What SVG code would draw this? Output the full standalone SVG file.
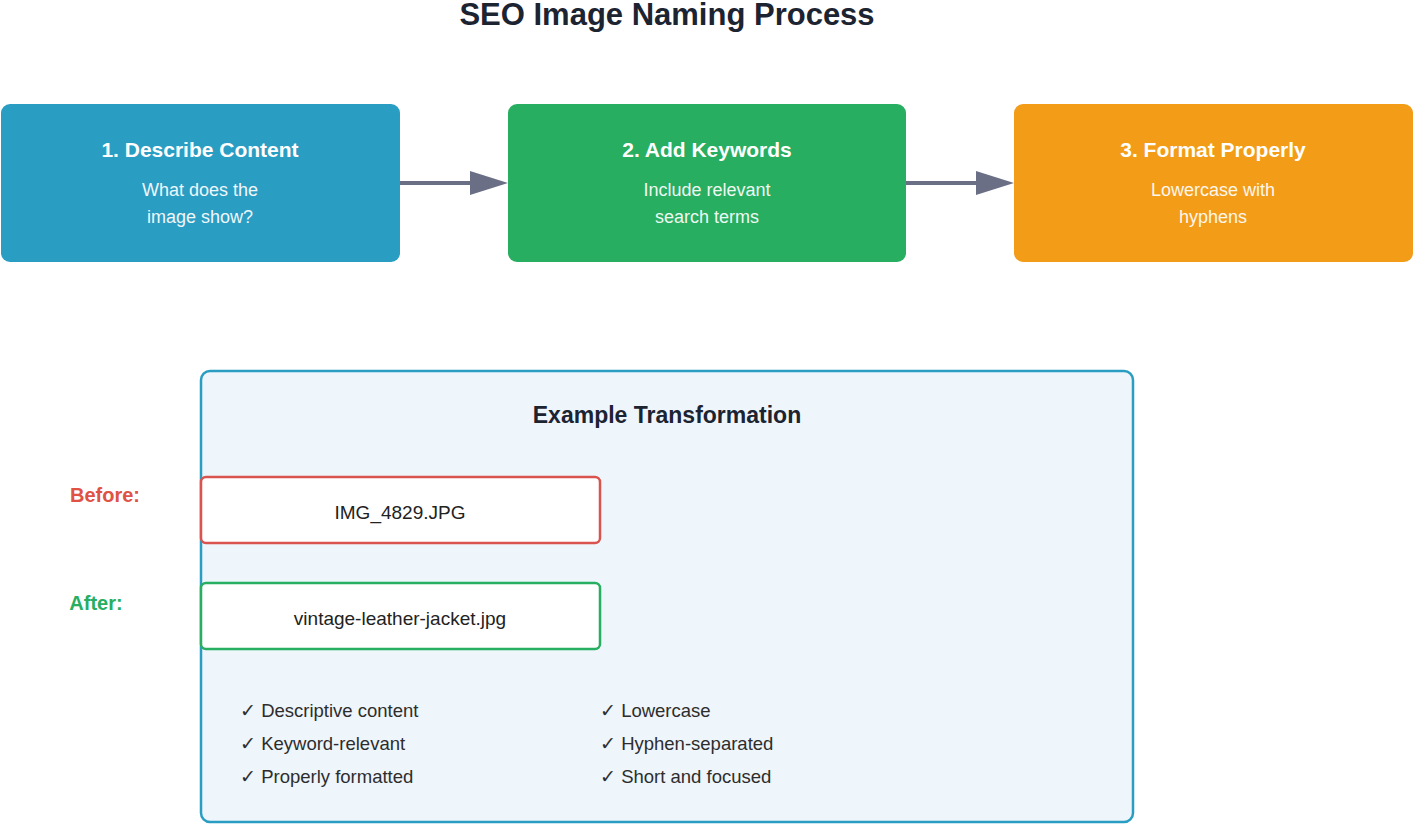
<svg xmlns="http://www.w3.org/2000/svg" width="1414" height="825" viewBox="0 0 1414 825">
<style>
text{font-family:"Liberation Sans",Arial,sans-serif}
.t{font-size:21px;font-weight:bold;fill:#fff;text-anchor:middle}
.s{font-size:18px;fill:#fff;text-anchor:middle;opacity:0.92}
.f{font-size:19px;fill:#222;text-anchor:middle}
.c{font-size:18.5px;fill:#2d2d2d}
</style>
<rect width="1414" height="825" fill="#fff"/>
<text x="667" y="25" font-size="31" font-weight="bold" fill="#1c2331" text-anchor="middle">SEO Image Naming Process</text>
<g id="connectors" stroke="#6b6f86" stroke-width="4" fill="none">
<path d="M400,183H470"/><path d="M470,171L508,183L470,195z" fill="#6b6f86" stroke="none"/>
<path d="M906,183H976"/><path d="M976,171L1014,183L976,195z" fill="#6b6f86" stroke="none"/>
</g>
<g id="step1"><rect x="1" y="104" width="399" height="158" rx="9" fill="#2a9dc3"/><text class="t" x="200" y="157">1. Describe Content</text><text class="s" x="200" y="196">What does the</text><text class="s" x="200" y="223">image show?</text></g>
<g id="step2"><rect x="508" y="104" width="398" height="158" rx="9" fill="#27ae60"/><text class="t" x="707" y="157">2. Add Keywords</text><text class="s" x="707" y="196">Include relevant</text><text class="s" x="707" y="223">search terms</text></g>
<g id="step3"><rect x="1014" y="104" width="399" height="158" rx="9" fill="#f39c18"/><text class="t" x="1213" y="157">3. Format Properly</text><text class="s" x="1213" y="196">Lowercase with</text><text class="s" x="1213" y="223">hyphens</text></g>
<g id="example"><rect x="201" y="371" width="932" height="451" rx="9" fill="#eef5fb" stroke="#2a9dc3" stroke-width="2.5"/>
<text x="667" y="423" font-size="23" font-weight="bold" fill="#1c2331" text-anchor="middle">Example Transformation</text></g>
<g id="before"><text x="105" y="502" font-size="20" font-weight="bold" fill="#e05244" text-anchor="middle">Before:</text><rect x="201" y="477" width="399" height="66" rx="5" fill="#fff" stroke="#d9534f" stroke-width="2.5"/><text class="f" x="400" y="519">IMG_4829.JPG</text></g>
<g id="after"><text x="96" y="610" font-size="20" font-weight="bold" fill="#27ae60" text-anchor="middle">After:</text><rect x="201" y="583" width="399" height="66" rx="5" fill="#fff" stroke="#27ae60" stroke-width="2.5"/><text class="f" x="400" y="625">vintage-leather-jacket.jpg</text></g>
<g id="checks">
<text class="c" x="240" y="717">✓ Descriptive content</text>
<text class="c" x="240" y="750">✓ Keyword-relevant</text>
<text class="c" x="240" y="783">✓ Properly formatted</text>
<text class="c" x="600" y="717">✓ Lowercase</text>
<text class="c" x="600" y="750">✓ Hyphen-separated</text>
<text class="c" x="600" y="783">✓ Short and focused</text>
</g>
</svg>
